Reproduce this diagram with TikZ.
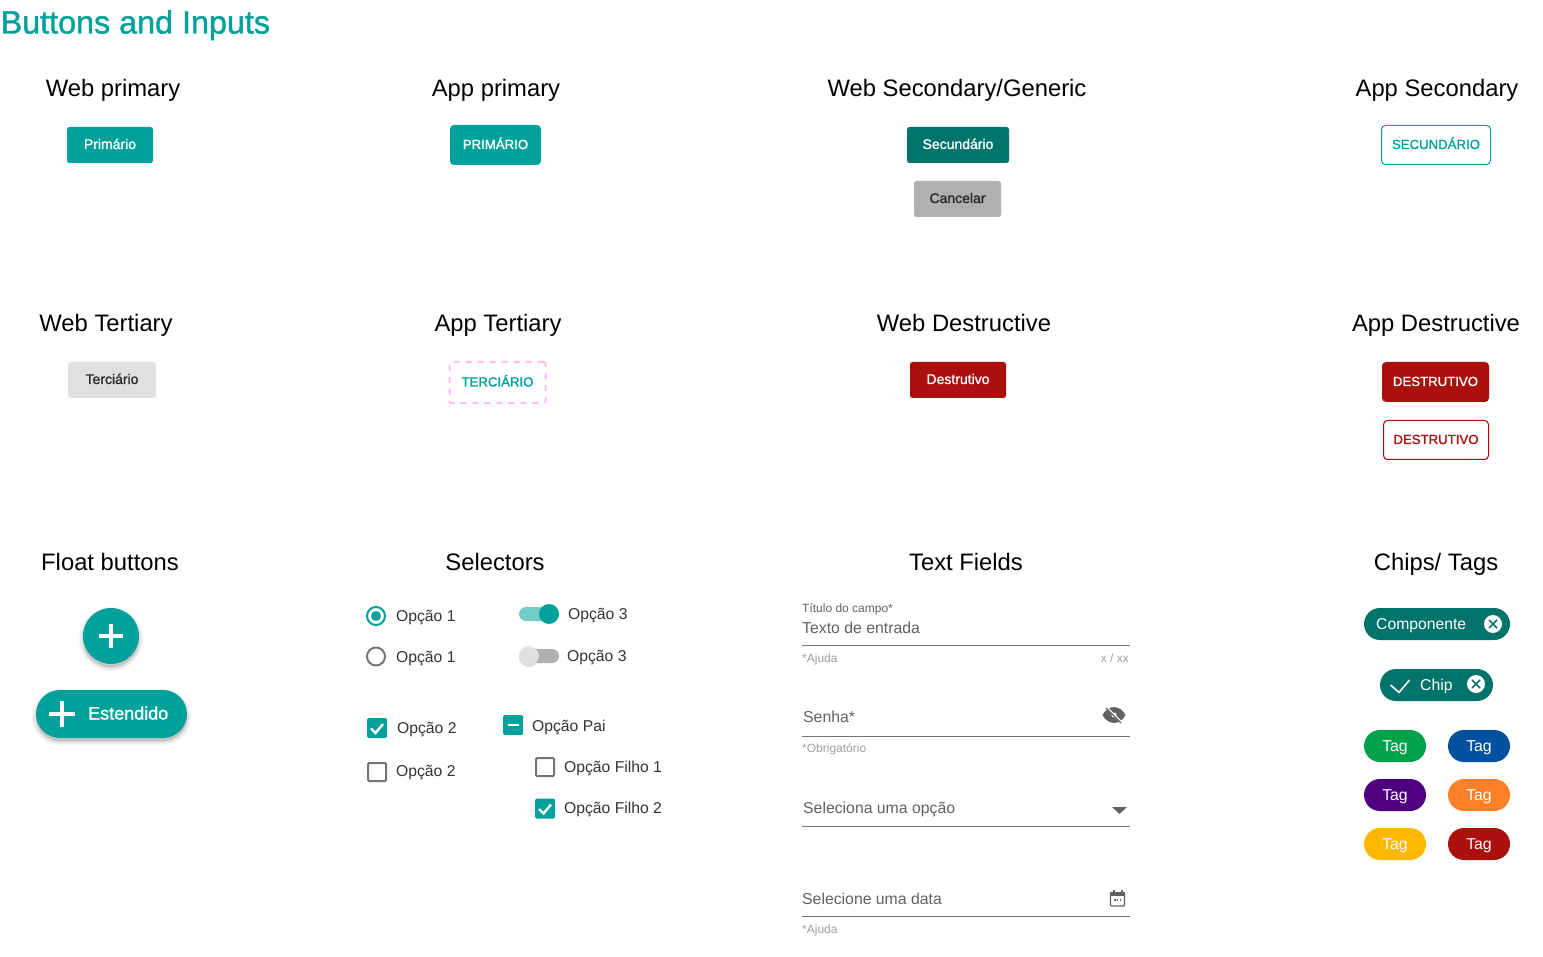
\documentclass[tikz,border=0pt]{standalone}
\usepackage{fontspec}
\setmainfont{Liberation Sans}
\newfontfamily\mediumfont[FakeBold=1.2]{Liberation Sans}
\usetikzlibrary{shadows,positioning}
\definecolor{tealMain}{HTML}{00A19A}
\definecolor{tealDark}{HTML}{00746B}
\definecolor{redMain}{HTML}{AA100C}
\definecolor{grayText}{HTML}{616161}
\definecolor{grayHint}{HTML}{9E9E9E}
\definecolor{grayLine}{HTML}{757575}
\definecolor{pinkDash}{HTML}{FFBFF5}
\definecolor{tagGreen}{HTML}{00A14B}
\definecolor{tagBlue}{HTML}{0050A0}
\definecolor{tagPurple}{HTML}{4F0080}
\definecolor{tagOrange}{HTML}{FF8028}
\definecolor{tagYellow}{HTML}{FFB800}
\newcommand{\fsz}[1]{\fontsize{#1pt}{#1pt}\selectfont}
\tikzstyle{groupTitle}=[inner sep=0pt, text=black, font=\fsz{23.8}, text height=17.2pt, text depth=0pt]
\tikzstyle{button}=[inner sep=0pt, font=\mediumfont\fsz{14}, text=white, rounded corners=2.5pt, minimum height=36pt, text height=8pt, text depth=0pt]
\tikzstyle{appButton}=[button, font=\mediumfont\fsz{13.2}, rounded corners=4pt, minimum height=40pt]
\tikzstyle{optionLabel}=[inner sep=0pt, anchor=west, text=black!80, font=\fsz{15.7}, text height=13pt, text depth=2.5pt]
\tikzstyle{fieldText}=[inner sep=0pt, anchor=west, text=grayText, font=\fsz{15.8}, text height=13pt, text depth=2.5pt]
\tikzstyle{hintText}=[inner sep=0pt, anchor=west, text=grayHint, font=\fsz{12}, text height=8pt, text depth=0pt]
\tikzstyle{fieldLine}=[draw=grayLine, line width=1pt]
\tikzstyle{checkOn}=[fill=tealMain, draw=none, rounded corners=1.5pt, minimum size=20pt, inner sep=0pt]
\tikzstyle{checkOff}=[draw=grayLine, line width=2pt, rounded corners=1pt, minimum size=18pt, inner sep=0pt]
\tikzstyle{checkMark}=[draw=white, line width=2.4pt]
\tikzstyle{closeDot}=[circle, fill=white, minimum size=18pt, inner sep=0pt]
\tikzstyle{closeMark}=[draw=tealDark, line width=1.6pt]
\tikzstyle{tag}=[rounded corners=16pt, minimum width=62pt, minimum height=32pt, inner sep=0pt, text=white, font=\fsz{15.8}, text height=10pt, text depth=0pt]
\tikzstyle{softLayer}=[general shadow={shadow xshift=0pt, shadow yshift=-3pt, draw=black, fill=black, line width=#1, opacity=0.035}]
\tikzstyle{floatShadow}=[softLayer=8pt, softLayer=6pt, softLayer=4pt, softLayer=2pt]
\begin{document}
\begin{tikzpicture}[x=1pt, y=-1pt]
    \useasboundingbox (0,0) rectangle (1543,957);

    % titles
    \node[inner sep=0pt, anchor=west, text=tealMain, font=\mediumfont\fsz{32.3}, text height=23pt, text depth=0pt] (mainTitle) at (0.5, 22) {Buttons and Inputs};
    \node[groupTitle] (t1) at (113, 88) {Web primary};
    \node[groupTitle] (t2) at (496, 88) {App primary};
    \node[groupTitle] (t3) at (957, 88) {Web Secondary/Generic};
    \node[groupTitle] (t4) at (1437, 88) {App Secondary};
    \node[groupTitle] (t5) at (106, 323) {Web Tertiary};
    \node[groupTitle] (t6) at (498, 323) {App Tertiary};
    \node[groupTitle] (t7) at (964, 323) {Web Destructive};
    \node[groupTitle] (t8) at (1436, 323) {App Destructive};
    \node[groupTitle] (t9) at (110, 562) {Float buttons};
    \node[groupTitle] (t10) at (495, 562) {Selectors};
    \node[groupTitle] (t11) at (966, 562) {Text Fields};
    \node[groupTitle] (t12) at (1436, 562) {Chips/ Tags};

    % buttons
    \node[button, fill=tealMain, minimum width=86pt] (webPrimary) at (110, 145) {Primário};
    \node[appButton, fill=tealMain, minimum width=91pt] (appPrimary) at (495.5, 145) {PRIMÁRIO};
    \node[button, fill=tealDark, minimum width=102pt] (webSecondary) at (958, 145) {Secundário};
    \node[button, fill=black!31, text=black!85, minimum width=87pt] (webCancel) at (957.5, 199) {Cancelar};
    \node[appButton, draw=tealMain, line width=1pt, fill=white, text=tealMain, minimum width=109pt, minimum height=39pt] (appSecondary) at (1436, 145) {SECUNDÁRIO};
    \node[button, fill=black!12, text=black!85, minimum width=88pt] (webTertiary) at (112, 380) {Terciário};
    \node[appButton, draw=pinkDash, line width=2pt, dash pattern=on 6pt off 6pt, rounded corners=2pt, text=tealMain, minimum width=96pt, minimum height=41pt] (appTertiary) at (497.5, 382.5) {TERCIÁRIO};
    \node[button, fill=redMain, minimum width=96pt] (webDestructive) at (958, 380) {Destrutivo};
    \node[appButton, fill=redMain, minimum width=107pt] (appDestructive) at (1435.5, 382) {DESTRUTIVO};
    \node[appButton, draw=redMain, line width=1pt, fill=white, text=redMain, minimum width=105pt, minimum height=39pt] (appDestructiveOutline) at (1436, 440) {DESTRUTIVO};

    % float buttons
    \node[circle, fill=tealMain, minimum size=56pt, inner sep=0pt, floatShadow] (floatRound) at (111, 636) {};
    \draw[white, line width=4pt] ([xshift=-12pt]floatRound.center) -- ([xshift=12pt]floatRound.center);
    \draw[white, line width=4pt] ([yshift=-12pt]floatRound.center) -- ([yshift=12pt]floatRound.center);
    \node[fill=tealMain, rounded corners=24pt, minimum width=151pt, minimum height=48pt, inner sep=0pt, floatShadow] (floatExtended) at (111.5, 714) {};
    \node[inner sep=0pt, anchor=west, text=white, font=\mediumfont\fsz{18}, text height=13pt, text depth=0pt] (floatLabel) at (88, 713) {Estendido};
    \coordinate (floatPlus) at (62, 713.5);
    \draw[white, line width=4pt] ([xshift=-13pt]floatPlus) -- ([xshift=13pt]floatPlus);
    \draw[white, line width=4pt] ([yshift=-13pt]floatPlus) -- ([yshift=13pt]floatPlus);

    % radios and toggles
    \node[circle, draw=tealMain, line width=2pt, minimum size=18pt, inner sep=0pt] (radioOn) at (376, 616) {};
    \node[circle, fill=tealMain, minimum size=10pt, inner sep=0pt] (radioDot) at (radioOn.center) {};
    \node[optionLabel] (l1) at (396, 616) {Opção 1};
    \node[circle, draw=grayLine, line width=2pt, minimum size=18pt, inner sep=0pt] (radioOff) at (376, 656.5) {};
    \node[optionLabel] (l2) at (396, 657) {Opção 1};
    \node[fill=tealMain!55, rounded corners=7pt, minimum width=40pt, minimum height=14pt, inner sep=0pt] (trackOn) at (539, 614) {};
    \node[circle, fill=tealMain, minimum size=20pt, inner sep=0pt] (thumbOn) at (549, 614) {};
    \node[optionLabel] (l3) at (568, 614) {Opção 3};
    \node[fill=black!31, rounded corners=7pt, minimum width=38pt, minimum height=14pt, inner sep=0pt] (trackOff) at (540, 656) {};
    \node[circle, fill=black!12, minimum size=20pt, inner sep=0pt, drop shadow={shadow xshift=0pt, shadow yshift=-1pt, opacity=0.25}] (thumbOff) at (529, 656) {};
    \node[optionLabel] (l4) at (567, 656) {Opção 3};

    % checkboxes
    \node[checkOn] (check1) at (377, 728) {};
    \draw[checkMark] ([shift={(-6,0.5)}]check1.center) -- ([shift={(-1.5,5)}]check1.center) -- ([shift={(6,-4)}]check1.center);
    \node[optionLabel] (l5) at (397, 728) {Opção 2};
    \node[checkOff] (check2) at (377, 772) {};
    \node[optionLabel] (l6) at (396, 771) {Opção 2};
    \node[checkOn] (checkParent) at (513, 725) {};
    \draw[white, line width=2.4pt] ([xshift=-5.5pt]checkParent.center) -- ([xshift=5.5pt]checkParent.center);
    \node[optionLabel] (l7) at (532, 726) {Opção Pai};
    \node[checkOff] (check3) at (545, 767) {};
    \node[optionLabel] (l8) at (564, 767) {Opção Filho 1};
    \node[checkOn] (check4) at (545, 808.5) {};
    \draw[checkMark] ([shift={(-6,0.5)}]check4.center) -- ([shift={(-1.5,5)}]check4.center) -- ([shift={(6,-4)}]check4.center);
    \node[optionLabel] (l9) at (564, 808) {Opção Filho 2};

    % text fields
    \node[hintText, text=grayText] (f1Title) at (802, 608) {Título do campo*};
    \node[fieldText] (f1Text) at (802, 628) {Texto de entrada};
    \coordinate (f1a) at (802, 645.5);
    \coordinate (f1b) at (1130, 645.5);
    \draw[fieldLine] (f1a) -- (f1b);
    \node[hintText] (f1Help) at (802, 658) {*Ajuda};
    \node[hintText, anchor=east] (f1Count) at (1129, 658) {x / xx};

    \node[fieldText] (f2Text) at (803, 717) {Senha*};
    \coordinate (f2a) at (802, 736.5);
    \coordinate (f2b) at (1130, 736.5);
    \draw[fieldLine] (f2a) -- (f2b);
    \node[hintText] (f2Help) at (802, 748) {*Obrigatório};
    \coordinate (eye) at (1114, 715);
    \fill[grayText] ([xshift=-11.5pt]eye) .. controls ([shift={(-6,-10.5)}]eye) and ([shift={(6,-10.5)}]eye) .. ([xshift=11.5pt]eye) .. controls ([shift={(6,10.5)}]eye) and ([shift={(-6,10.5)}]eye) .. cycle;
    \fill[white] (eye) circle (2.5pt);
    \draw[white, line width=2.4pt] ([shift={(-7,-7)}]eye) -- ([shift={(8,8)}]eye);
    \draw[grayText, line width=1.2pt] ([shift={(-8,-7)}]eye) -- ([shift={(7,8)}]eye);

    \node[fieldText] (f3Text) at (803, 808) {Seleciona uma opção};
    \coordinate (f3a) at (802, 826.5);
    \coordinate (f3b) at (1130, 826.5);
    \draw[fieldLine] (f3a) -- (f3b);
    \coordinate (arrowOpen) at (1119.5, 807);
    \fill[grayText] ([xshift=-7.5pt]arrowOpen) -- ([xshift=7.5pt]arrowOpen) -- ([yshift=-7pt]arrowOpen) -- cycle;

    \node[fieldText] (f4Text) at (802, 899) {Selecione uma data};
    \coordinate (f4a) at (802, 916.5);
    \coordinate (f4b) at (1130, 916.5);
    \draw[fieldLine] (f4a) -- (f4b);
    \node[hintText] (f4Help) at (802, 929) {*Ajuda};
    \coordinate (calendar) at (1117.5, 898.5);
    \draw[grayText, line width=1.4pt, rounded corners=1pt] ([shift={(-7,-5)}]calendar) rectangle ([shift={(7,7.5)}]calendar);
    \fill[grayText] ([shift={(-7.5,-6.5)}]calendar) rectangle ([shift={(7.5,-2.5)}]calendar);
    \fill[grayText] ([shift={(-5,-8.5)}]calendar) rectangle ([shift={(-3,-5)}]calendar);
    \fill[grayText] ([shift={(3,-8.5)}]calendar) rectangle ([shift={(5,-5)}]calendar);
    \fill[grayText] ([shift={(-3.5,0.5)}]calendar) rectangle ([shift={(-2,2)}]calendar);
    \fill[grayText] ([shift={(-0.7,0.5)}]calendar) rectangle ([shift={(0.7,2)}]calendar);
    \fill[grayText] ([shift={(2,0.5)}]calendar) rectangle ([shift={(3.5,2)}]calendar);

    % chips
    \node[fill=tealDark, rounded corners=16pt, minimum width=146pt, minimum height=32pt, inner sep=0pt] (chip1) at (1437, 624) {};
    \node[optionLabel, text=white] (chip1Label) at (1376, 624) {Componente};
    \node[closeDot] (chip1Close) at (1493, 624) {};
    \draw[closeMark] ([shift={(-4,-4)}]chip1Close.center) -- ([shift={(4,4)}]chip1Close.center);
    \draw[closeMark] ([shift={(-4,4)}]chip1Close.center) -- ([shift={(4,-4)}]chip1Close.center);
    \node[fill=tealDark, rounded corners=16pt, minimum width=113pt, minimum height=32pt, inner sep=0pt] (chip2) at (1436.5, 685) {};
    \node[optionLabel, text=white] (chip2Label) at (1420, 685) {Chip};
    \draw[white, line width=1.6pt] ([shift={(-46,0)}]chip2.center) -- ([shift={(-37.5,7.5)}]chip2.center) -- ([shift={(-27,-5)}]chip2.center);
    \node[closeDot] (chip2Close) at (1476, 684) {};
    \draw[closeMark] ([shift={(-4,-4)}]chip2Close.center) -- ([shift={(4,4)}]chip2Close.center);
    \draw[closeMark] ([shift={(-4,4)}]chip2Close.center) -- ([shift={(4,-4)}]chip2Close.center);

    % tags
    \node[tag, fill=tagGreen] (tag1) at (1395, 746) {Tag};
    \node[tag, fill=tagBlue] (tag2) at (1479, 746) {Tag};
    \node[tag, fill=tagPurple] (tag3) at (1395, 795) {Tag};
    \node[tag, fill=tagOrange] (tag4) at (1479, 795) {Tag};
    \node[tag, fill=tagYellow] (tag5) at (1395, 844) {Tag};
    \node[tag, fill=redMain] (tag6) at (1479, 844) {Tag};
\end{tikzpicture}
\end{document}
